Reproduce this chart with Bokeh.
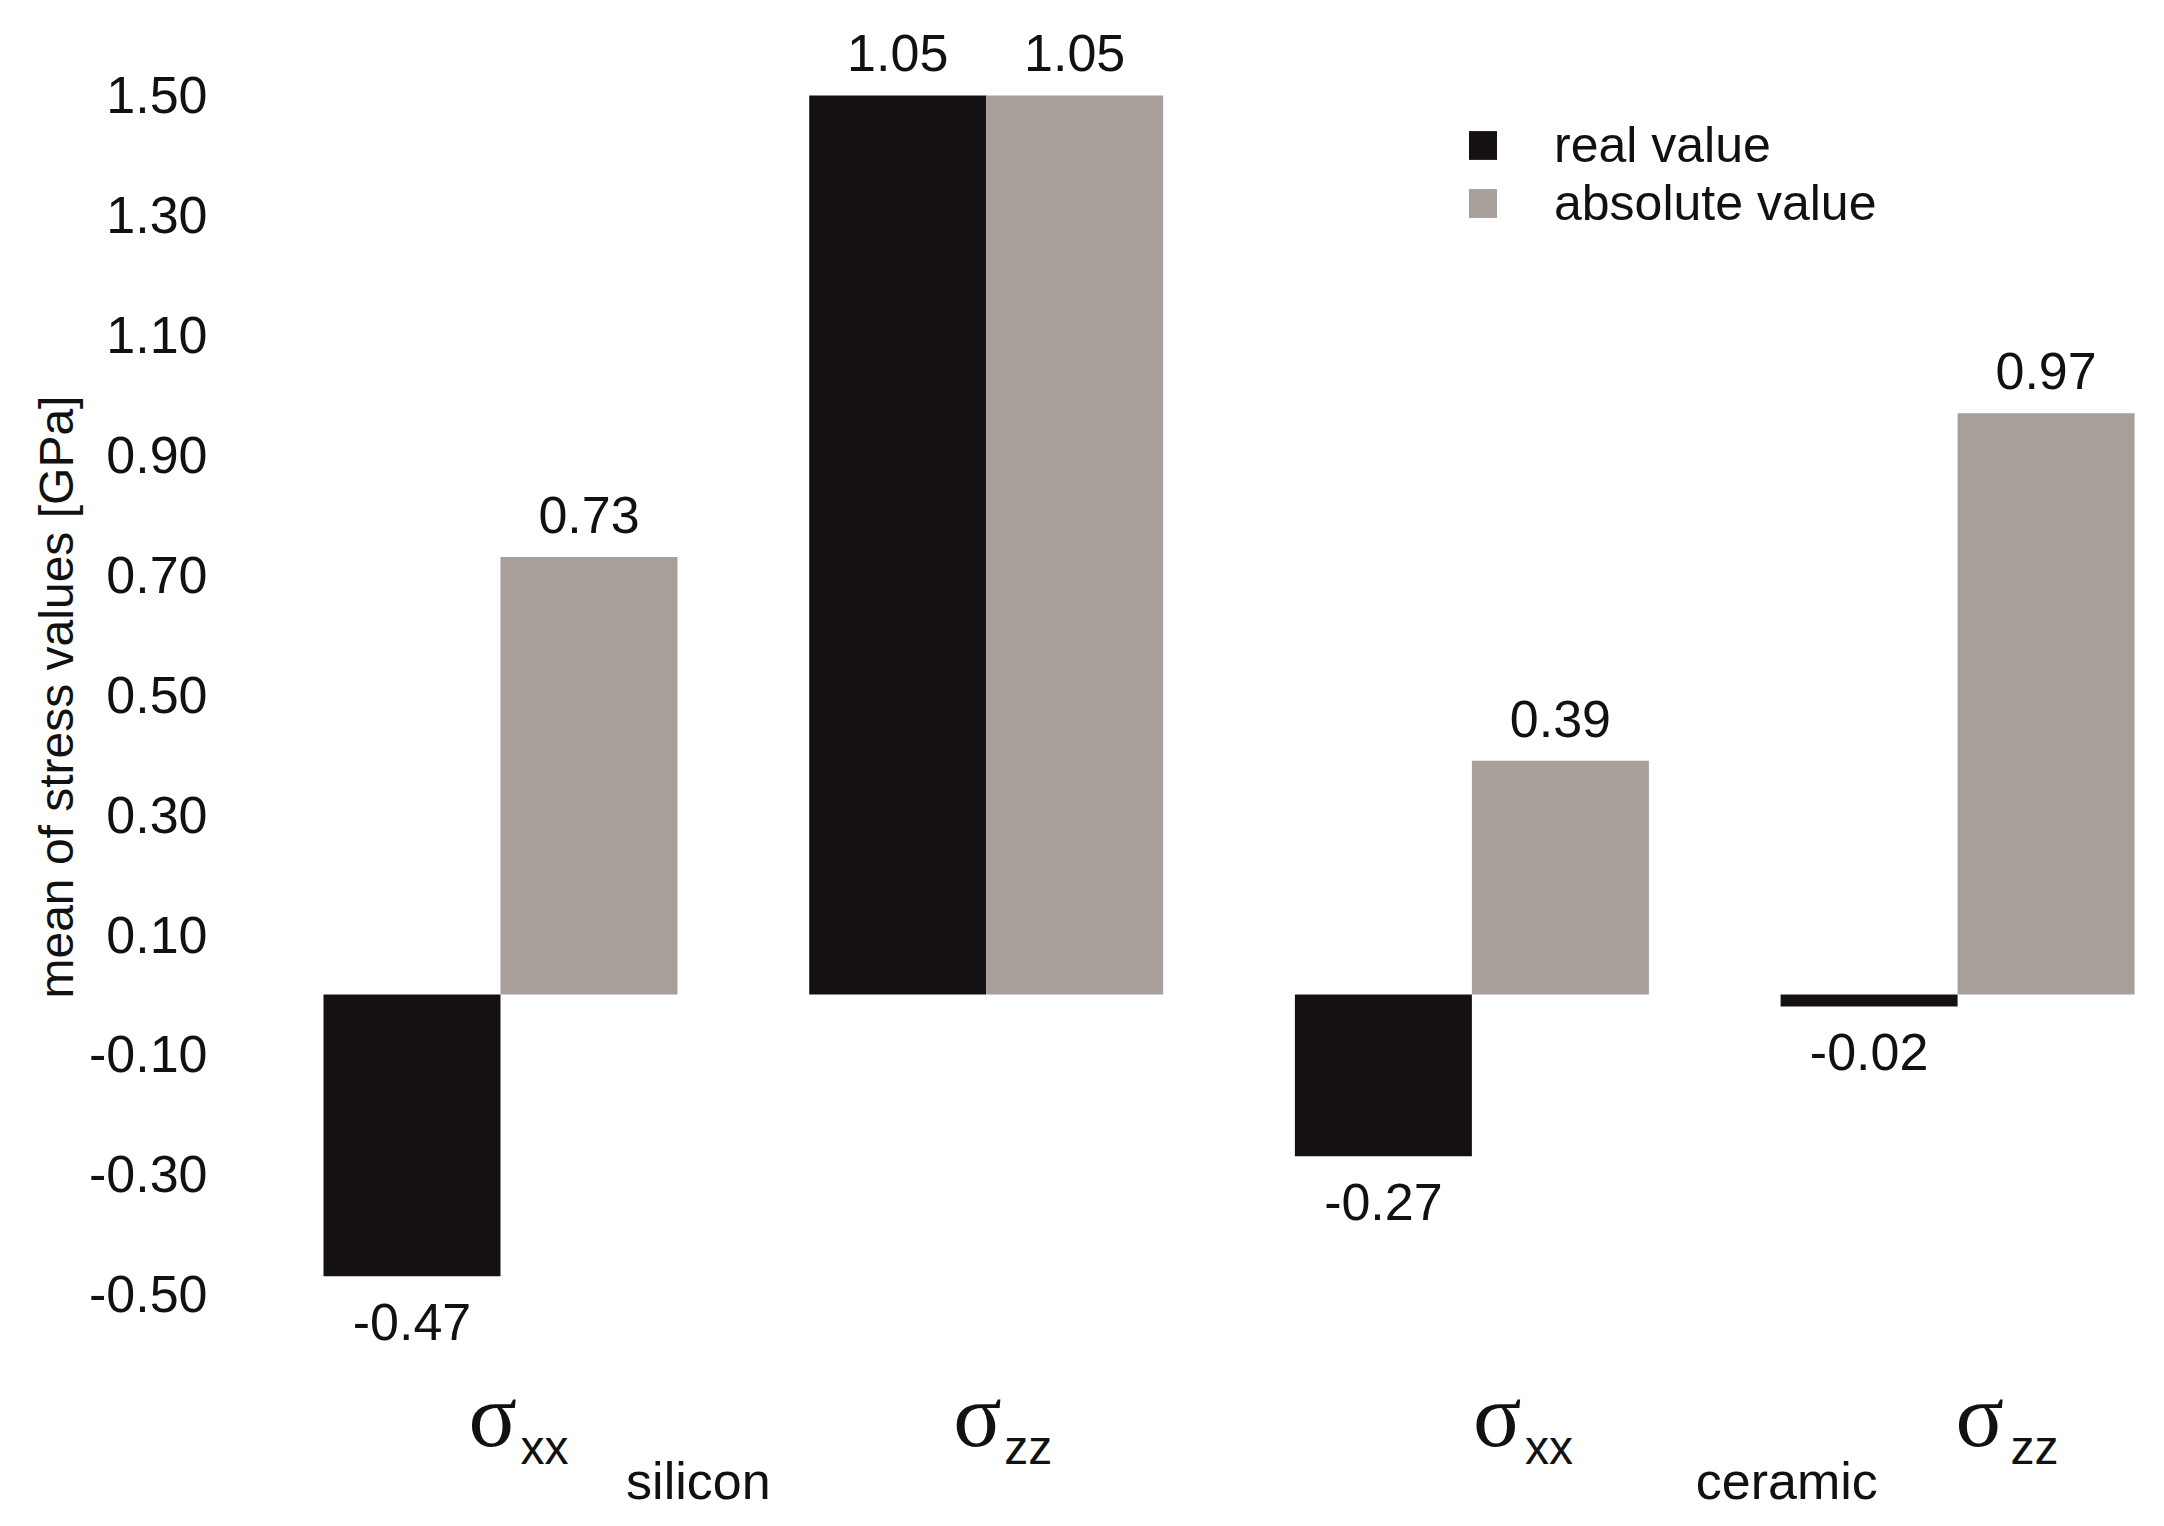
from bokeh.plotting import figure
from bokeh.models import (FixedTicker, PrintfTickFormatter, Legend, LegendItem,
                          Title, Range1d)
from bokeh.core.properties import value
from bokeh.embed import file_html
from bokeh.resources import INLINE

# ---------------- data ----------------
groups = [0, 1, 2, 3]                      # σxx silicon, σzz silicon, σxx ceramic, σzz ceramic
components = ["xx", "zz", "xx", "zz"]
materials = ["silicon", "ceramic"]
material_centers = [0.5, 2.5]
# drawn bar heights (σzz silicon bars are drawn up to the axis top 1.50)
real_values = [-0.47, 1.50, -0.27, -0.02]
abs_values = [0.73, 1.50, 0.39, 0.97]
real_labels = ["-0.47", "1.05", "-0.27", "-0.02"]
abs_labels = ["0.73", "1.05", "0.39", "0.97"]
y_ticks = [-0.50, -0.30, -0.10, 0.10, 0.30, 0.50, 0.70, 0.90, 1.10, 1.30, 1.50]
series_names = ["real value", "absolute value"]
y_title = "mean of stress values [GPa]"

# ---------------- style ----------------
BLACK = "#151014"
GRAY = "#a89e9a"
TXT = "#111111"
SANS = "Liberation Sans"
BAR_W = 0.3644

p = figure(width=2164, height=1526, output_backend="svg", toolbar_location=None,
           x_range=Range1d(-0.5703, 3.4260), y_range=Range1d(-0.8877, 1.6585),
           min_border_left=223, min_border_right=0, min_border_top=0, min_border_bottom=0)
p.outline_line_color = None
p.grid.visible = False
p.xaxis.visible = False
p.background_fill_color = "white"
p.border_fill_color = "white"

yax = p.yaxis[0]
yax.ticker = FixedTicker(ticks=y_ticks)
yax.formatter = PrintfTickFormatter(format="%.2f")
yax.axis_line_color = None
yax.major_tick_line_color = None
yax.minor_tick_line_color = None
yax.major_tick_out = 0
yax.major_tick_in = 0
yax.major_label_standoff = 16
yax.major_label_text_font = SANS
yax.major_label_text_font_size = "52px"
yax.major_label_text_color = TXT

p.add_layout(Title(text=y_title, align="left", offset=528, standoff=6,
                   text_font=SANS, text_font_size="48px", text_font_style="normal",
                   text_color=TXT), "left")

x_real = [g - BAR_W / 2 for g in groups]
x_abs = [g + BAR_W / 2 for g in groups]

r_real = p.vbar(x=x_real, top=real_values, bottom=0, width=BAR_W,
                fill_color=BLACK, line_color=None)
r_abs = p.vbar(x=x_abs, top=abs_values, bottom=0, width=BAR_W,
               fill_color=GRAY, line_color=None)

# value labels
def lab_offsets(vals):
    return [-42 if v >= 0 else 46 for v in vals]

p.text(x=x_real, y=real_values, text=real_labels, y_offset=lab_offsets(real_values),
       text_align="center", text_baseline="alphabetic", text_font=value(SANS),
       text_font_size="52px", text_color=TXT)
p.text(x=x_abs, y=abs_values, text=abs_labels, y_offset=lab_offsets(abs_values),
       text_align="center", text_baseline="alphabetic", text_font=value(SANS),
       text_font_size="52px", text_color=TXT)

# category labels (σ with subscript) and material names
sigma_dx = [-32, -33, 1, -2]
sub_dx = [20, 18, 53, 53]
p.text(x=groups, y=[0] * 4, text=["σ"] * 4, x_offset=sigma_dx, y_offset=[421] * 4,
       text_align="left", text_baseline="alphabetic", text_font=value("Liberation Serif"),
       text_font_size="90px", text_color=TXT)
p.text(x=groups, y=[0] * 4, text=components, x_offset=sub_dx, y_offset=[453] * 4,
       text_align="left", text_baseline="alphabetic", text_font=value(SANS),
       text_font_size="48px", text_color=TXT)
p.text(x=material_centers, y=[0, 0], text=materials, x_offset=[-45, 72], y_offset=[487, 487],
       text_align="center", text_baseline="alphabetic", text_font=value(SANS),
       text_font_size="52px", text_color=TXT)

legend = Legend(items=[LegendItem(label=series_names[0], renderers=[r_real]),
                       LegendItem(label=series_names[1], renderers=[r_abs])],
                location=(1242, 1294), orientation="vertical",
                glyph_width=35, glyph_height=36, label_standoff=54,
                label_text_font=SANS, label_text_font_size="50px", label_text_color=TXT,
                label_height=50, spacing=0, padding=0, margin=0,
                border_line_color=None, background_fill_alpha=0)
p.add_layout(legend, "center")

open("out.html", "w").write(file_html(p, INLINE))
